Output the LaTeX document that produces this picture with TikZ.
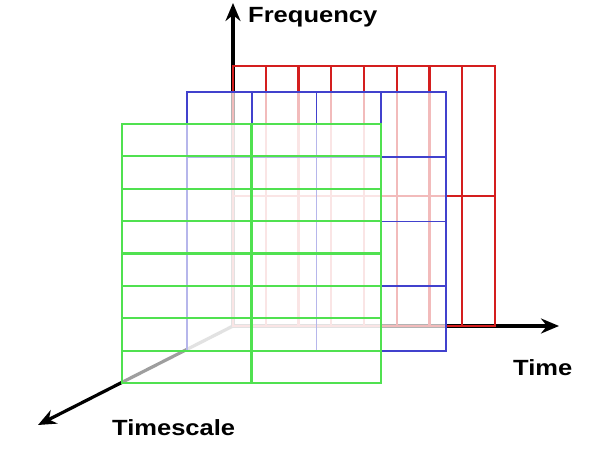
\documentclass[tikz,border=0pt]{standalone}
\usepackage{fontspec}
\usepackage{graphicx}
\setmainfont{Liberation Sans}
\usetikzlibrary{arrows.meta}
\definecolor{gridred}{RGB}{212,30,30}
\definecolor{gridblue}{RGB}{65,65,205}
\definecolor{gridgreen}{RGB}{80,225,80}
\begin{document}
\begin{tikzpicture}[x=1pt,y=-1pt,
  axis/.style={line width=3.2pt, -{Stealth[length=18pt,width=15pt]}},
  lab/.style={font=\fontsize{22}{22}\selectfont\bfseries, inner sep=0pt, anchor=base west},
  veilb/.style={fill=white, fill opacity=0.7, draw=none},
  veilg/.style={fill=white, fill opacity=0.62, draw=none},
  redgrid/.style={gridred, line width=2.2pt},
  bluegrid/.style={gridblue, line width=1.9pt},
  greengrid/.style={gridgreen, line width=2.1pt}]
\useasboundingbox (0,0) rectangle (595,457);
% axes
\coordinate (O) at (233,326);
\coordinate (Ftip) at (233,3);
\coordinate (Ttip) at (559,326);
\coordinate (Stip) at (38,425);
\draw[axis] (O) -- (Ftip);
\draw[axis] (O) -- (Ttip);
\draw[axis] (O) -- (Stip);
% red plane: 8 columns x 2 rows
\draw[redgrid] (233,66) rectangle (495,326);
\foreach \k in {1,...,7} \draw[redgrid] ({233+\k*32.75},66) -- ({233+\k*32.75},326);
\draw[redgrid] (233,196) -- (495,196);
% blue plane: 4 x 4
\fill[veilb] (187,92) rectangle (446,351);
\draw[bluegrid] (187,92) rectangle (446,351);
\foreach \k in {1,2,3} {
  \draw[bluegrid] ({187+\k*64.75},92) -- ({187+\k*64.75},351);
  \draw[bluegrid] (187,{92+\k*64.75}) -- (446,{92+\k*64.75});
}
% green plane: 2 columns x 8 rows
\fill[veilg] (122,124) rectangle (381,383);
\draw[greengrid] (122,124) rectangle (381,383);
\draw[greengrid] (251.5,124) -- (251.5,383);
\foreach \k in {1,...,7} \draw[greengrid] (122,{124+\k*32.375}) -- (381,{124+\k*32.375});
% labels
\node[lab] (freq) at (248,23) {\scalebox{1.16}[1]{Frequency}};
\node[lab] (time) at (513,375) {\scalebox{1.16}[1]{Time}};
\node[lab] (tscale) at (112,435) {\scalebox{1.16}[1]{Timescale}};
\end{tikzpicture}
\end{document}
